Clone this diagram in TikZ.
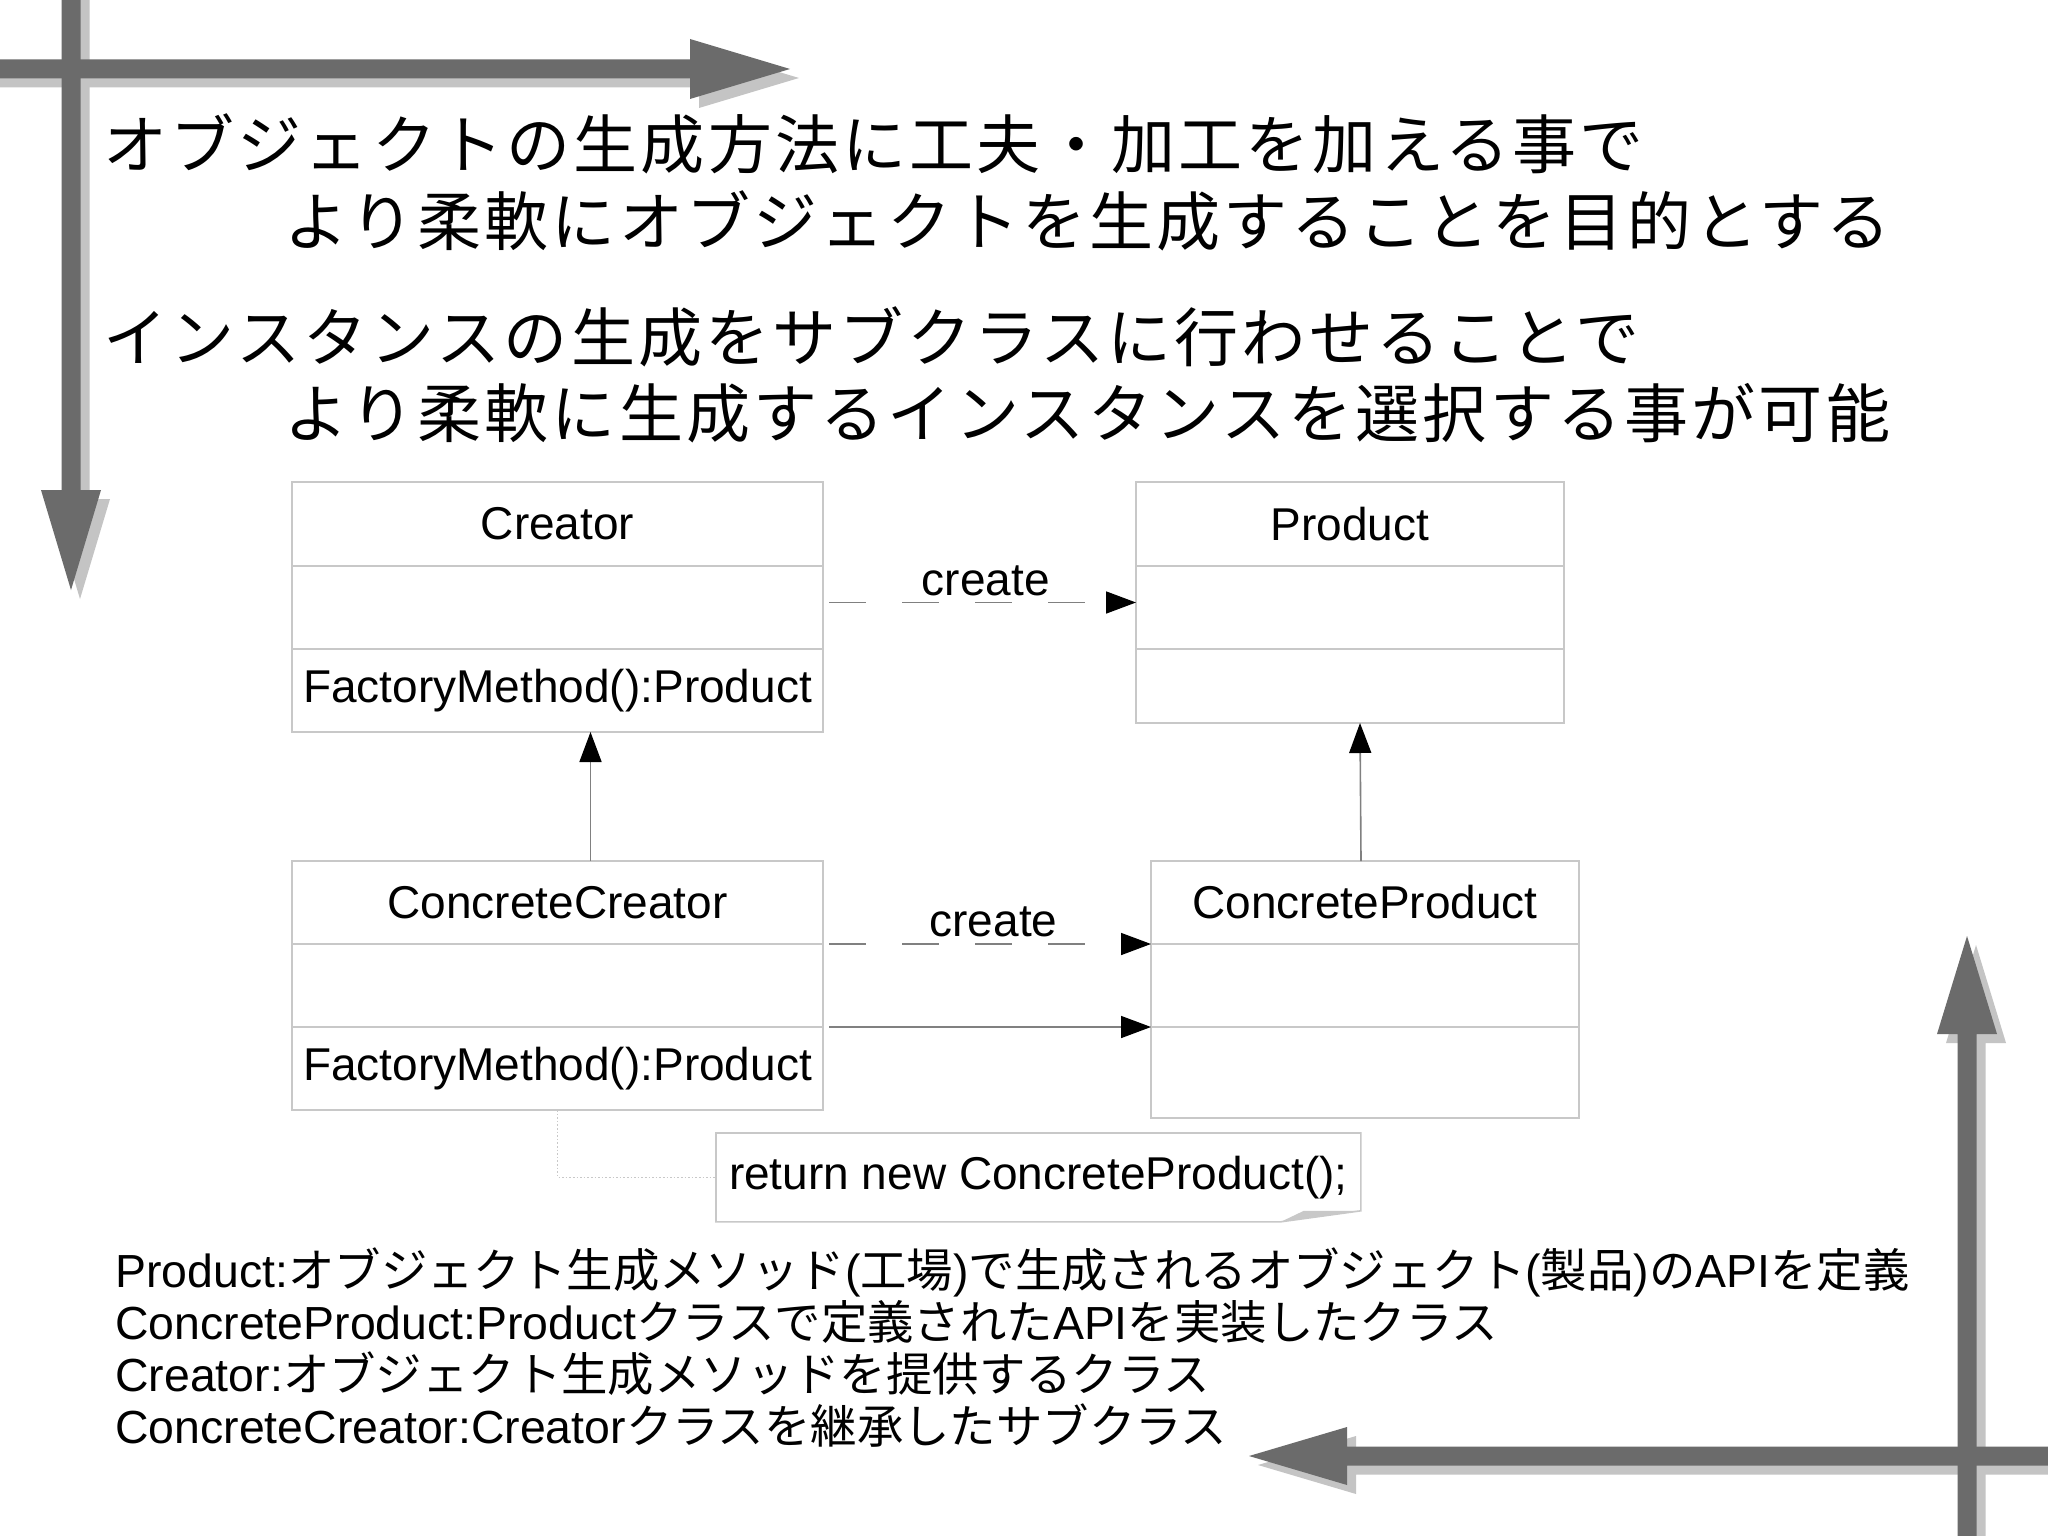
\documentclass[tikz,border=0pt]{standalone}
\usepackage{fontspec}
\setmainfont{Liberation Sans}
\newfontfamily\jp{Noto Sans CJK JP}
\newfontfamily\jphead{Noto Sans CJK JP}[LetterSpace=5]
\usetikzlibrary{arrows.meta,positioning}
\definecolor{arrowgray}{HTML}{6B6B6B}
\definecolor{shadowgray}{HTML}{C4C4C4}
\definecolor{boxgray}{HTML}{C8C8C8}
\newcommand\J[1]{{\jp #1}}

\begin{document}
\begin{tikzpicture}[x=0.5pt,y=-0.5pt,font=\fontsize{23pt}{27pt}\selectfont]
    \tikzstyle{part}=[draw=boxgray,line width=0.8pt,inner sep=0pt,outer sep=0pt,minimum height=41.5pt]
    \tikzstyle{wide}=[part,minimum width=265.5pt]
    \tikzstyle{narrow}=[part,minimum width=214pt]
    \tikzstyle{extends}=[draw=gray,line width=0.8pt,-{Triangle[length=15pt,width=11pt,color=black]}]
    \tikzstyle{create}=[extends,dash pattern=on 18.5pt off 18pt,shorten <=3pt]
    \tikzstyle{notelink}=[draw=boxgray,line width=0.8pt,densely dotted]
    \tikzstyle{label}=[above,inner sep=3pt,pos=0.52]

    \useasboundingbox[fill=white] (0,0) rectangle (2048,1535);

    % big arrows in the corners, shadow first
    \foreach \d/\c in {9/shadowgray,0/arrowgray} {
        \fill[\c,shift={(\d,\d)}] (-20,59.5) -- (690,59.5) -- (690,39) -- (790,69) -- (690,99) -- (690,78.5) -- (-20,78.5) -- cycle;
        \fill[\c,shift={(\d,\d)}] (61.5,-20) -- (61.5,490) -- (41,490) -- (71,590) -- (101,490) -- (80.5,490) -- (80.5,-20) -- cycle;
        \fill[\c,shift={(\d,\d)}] (1957.5,1560) -- (1957.5,1034) -- (1937,1034) -- (1967,936) -- (1997,1034) -- (1976.5,1034) -- (1976.5,1560) -- cycle;
        \fill[\c,shift={(\d,\d)}] (2070,1446.5) -- (1347,1446.5) -- (1347,1427) -- (1249,1456) -- (1347,1485) -- (1347,1465.5) -- (2070,1465.5) -- cycle;
    }

    \foreach \n/\x/\y/\txt in {1/103/169/オブジェクトの生成方法に工夫・加工を加える事で,
                               2/284/246/より柔軟にオブジェクトを生成することを目的とする,
                               3/103/362/インスタンスの生成をサブクラスに行わせることで,
                               4/284/437/より柔軟に生成するインスタンスを選択する事が可能}
        \node[anchor=base west,inner sep=0pt,font=\jphead\fontsize{32pt}{36pt}\selectfont] (head-\n) at (\x,\y) {\txt};

    % classes
    \node[wide,anchor=north west,minimum height=42pt] (creator-name) at (292,482) {Creator};
    \node[wide,below=0pt of creator-name] (creator-attr) {};
    \node[wide,below=0pt of creator-attr] (creator-ops) {FactoryMethod():Product};

    \node[narrow,anchor=north west,minimum height=42pt] (product-name) at (1136,482) {Product};
    \node[narrow,below=0pt of product-name] (product-attr) {};
    \node[narrow,below=0pt of product-attr,minimum height=37pt] (product-ops) {};

    \node[wide,anchor=north west] (cc-name) at (292,861) {ConcreteCreator};
    \node[wide,below=0pt of cc-name] (cc-attr) {};
    \node[wide,below=0pt of cc-attr] (cc-ops) {FactoryMethod():Product};

    \node[narrow,anchor=north west] (cp-name) at (1151,861) {ConcreteProduct};
    \node[narrow,below=0pt of cp-name] (cp-attr) {};
    \node[narrow,below=0pt of cp-attr,minimum height=45.5pt] (cp-ops) {};

    \draw[create] ([yshift=2.5pt]creator-attr.east) -- ([yshift=2.5pt]product-attr.west) node[label] {create};
    \draw[create] (cc-attr.north east) -- (cp-attr.north west) node[label] {create};
    \draw[extends,shorten <=3pt] (cc-attr.south east) -- (cp-attr.south west);
    \draw[extends] ([xshift=16.5pt]cc-name.north) -- ([xshift=16.5pt]creator-ops.south);
    \draw[extends] ([xshift=-2pt]cp-name.north) -- ([xshift=5pt]product-ops.south);

    % note
    \node[minimum width=322pt,minimum height=44pt,inner sep=0pt,anchor=north west] (note) at (716,1133) {return new ConcreteProduct();};
    \draw[boxgray,line width=0.8pt] (note.north west) -- (note.north east) -- ([yshift=5.5pt]note.south east) -- ([xshift=-40pt]note.south east) -- (note.south west) -- cycle;
    \fill[boxgray] ([xshift=-40pt]note.south east) -- ([xshift=-28.5pt,yshift=5.5pt]note.south east) -- ([yshift=5.5pt]note.south east) -- cycle;
    \draw[notelink] (cc-ops.south) |- (note.west);

    \foreach \n/\y/\txt in {1/1287/Product:\J{オブジェクト生成メソッド}(\J{工場})\J{で生成されるオブジェクト}(\J{製品})\J{の}API\J{を定義},
                            2/1339/ConcreteProduct:Product\J{クラスで定義された}API\J{を実装したクラス},
                            3/1391/Creator:\J{オブジェクト生成メソッドを提供するクラス},
                            4/1443/ConcreteCreator:Creator\J{クラスを継承したサブクラス}}
        \node[anchor=base west,inner sep=0pt,font=\fontsize{23.2pt}{27pt}\selectfont] (desc-\n) at (115,\y) {\txt};
\end{tikzpicture}
\end{document}
